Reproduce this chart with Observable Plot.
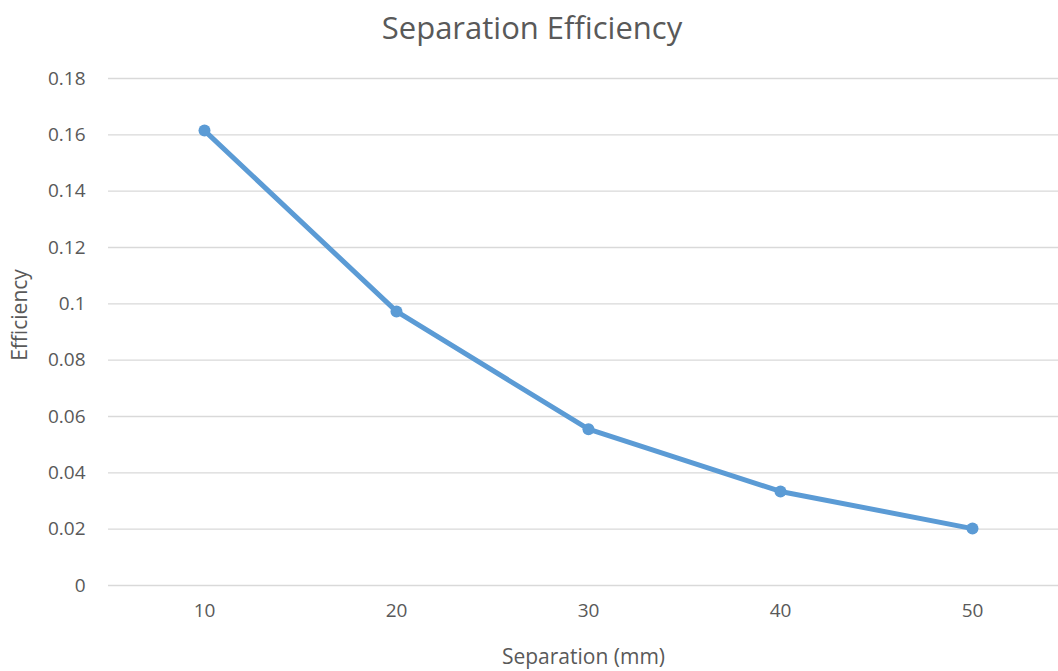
<!DOCTYPE html>
<html>
<head>
<meta charset="utf-8">
<script src="https://cdn.jsdelivr.net/npm/d3@7"></script>
<script src="https://cdn.jsdelivr.net/npm/@observablehq/plot@0.6"></script>
<style>
  html, body { margin: 0; padding: 0; background: #fff; }
  #title { height: 55px; line-height: 55px; text-align: center; font-family: "Open Sans", sans-serif; font-size: 31px; color: #595959; padding-left: 6px; }
</style>
</head>
<body>
<div id="title">Separation Efficiency</div>
<div id="chart"></div>
<script>
const separations = [10, 20, 30, 40, 50];
const efficiencies = [0.1615, 0.0973, 0.0555, 0.0334, 0.0202];
const yTicks = [0, 0.02, 0.04, 0.06, 0.08, 0.1, 0.12, 0.14, 0.16, 0.18];
const xLabel = "Separation (mm)";
const yLabel = "Efficiency";

const data = separations.map((s, i) => ({s, e: efficiencies[i]}));
const grey = "#595959";
const blue = "#5b9bd5";

const chart = Plot.plot({
  width: 1058,
  height: 616,
  marginTop: 23,
  marginBottom: 86,
  marginLeft: 108,
  marginRight: 0,
  style: {fontFamily: "Open Sans, sans-serif", fontSize: "19px", color: grey, background: "#fff"},
  x: {domain: [5, 54.48], ticks: separations, label: null},
  y: {domain: [0, 0.18], ticks: yTicks, label: null},
  marks: [
    Plot.gridY(yTicks, {stroke: "#d9d9d9", strokeOpacity: 1, strokeWidth: 1.3}),
    Plot.axisY(yTicks, {tickSize: 0, tickPadding: 23, fill: grey, fontSize: 19, tickFormat: d => String(d)}),
    Plot.axisX(separations, {tickSize: 0, tickPadding: 18, fill: grey, fontSize: 19, tickFormat: d => String(d)}),
    Plot.line(data, {x: "s", y: "e", stroke: blue, strokeWidth: 5}),
    Plot.dot(data, {x: "s", y: "e", fill: blue, r: 6}),
    Plot.text([xLabel], {frameAnchor: "bottom", dy: 78, text: d => d, fill: grey, fontSize: 21}),
    Plot.text([yLabel], {frameAnchor: "left", textAnchor: "middle", dx: -88, dy: -17, rotate: -90, text: d => d, fill: grey, fontSize: 21})
  ]
});
document.getElementById("chart").appendChild(chart);
</script>
</body>
</html>
